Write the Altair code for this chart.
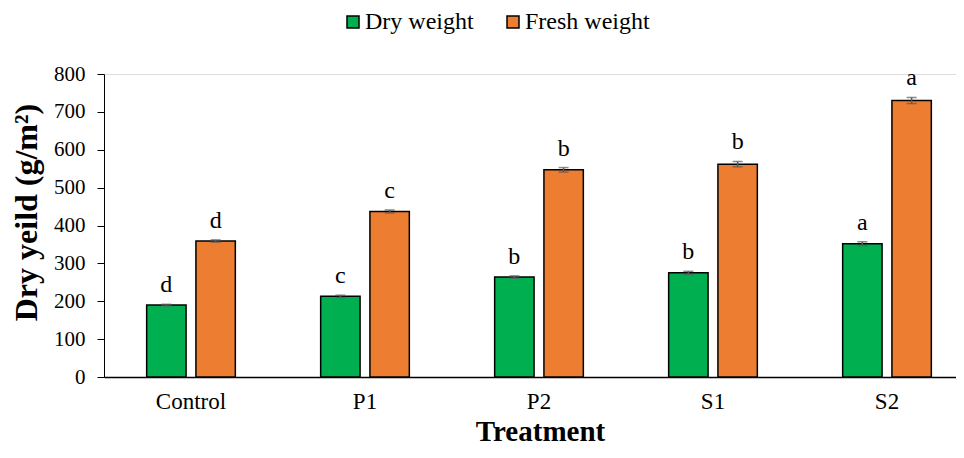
import altair as alt
import pandas as pd

treatments = ["Control", "P1", "P2", "S1", "S2"]
series = ["Dry weight", "Fresh weight"]
colors = ["#00B050", "#ED7D31"]
dry = [190, 213, 264, 275, 352]
fresh = [359, 437, 547, 562, 730]
dry_err = [2, 3, 3, 4, 5]
fresh_err = [3, 4, 6, 7, 8]
dry_letters = ["d", "c", "b", "b", "a"]
fresh_letters = ["d", "c", "b", "b", "a"]
y_ticks = [0, 100, 200, 300, 400, 500, 600, 700, 800]

rows = []
for i, t in enumerate(treatments):
    rows.append(dict(Treatment=t, Series=series[0], value=dry[i], err=dry_err[i], letter=dry_letters[i]))
    rows.append(dict(Treatment=t, Series=series[1], value=fresh[i], err=fresh_err[i], letter=fresh_letters[i]))
df = pd.DataFrame(rows)
df["lo"] = df["value"] - df["err"]
df["hi"] = df["value"] + df["err"]

FONT = "Liberation Serif"

xscale = alt.Scale(range=[0, 870], paddingInner=0, paddingOuter=0)
xaxis = alt.Axis(
    title="Treatment", labelAngle=0, ticks=False, domainColor="black", domainWidth=1.5,
    labelFont=FONT, labelFontSize=23, labelColor="black", labelPadding=13,
    titleFont=FONT, titleFontSize=29, titleFontWeight="bold", titleColor="black",
    titleX=436, titleY=54, titleBaseline="middle",
)
x = alt.X("Treatment:N", sort=treatments, scale=xscale, axis=xaxis)
xo = alt.XOffset("Series:N", sort=series, scale=alt.Scale(paddingInner=0.2, paddingOuter=0.866))

yscale = alt.Scale(domain=[0, 800])
yaxis = alt.Axis(
    title="Dry yeild (g/m²)", values=y_ticks, grid=False, labelOverlap=False,
    domainColor="black", tickColor="black", tickSize=7, labelPadding=12,
    labelFont=FONT, labelFontSize=21, labelColor="black",
    titleFont=FONT, titleFontSize=32, titleFontWeight="bold", titleColor="black",
    titleX=-78, titleY=138, titleAngle=-90, titleBaseline="middle", titleAlign="center",
)

base = alt.Chart(df).encode(x=x, xOffset=xo)

bars = base.mark_bar(stroke="black", strokeWidth=1.5).encode(
    y=alt.Y("value:Q", scale=yscale, axis=yaxis),
    color=alt.Color(
        "Series:N", sort=series, scale=alt.Scale(domain=series, range=colors),
        legend=alt.Legend(
            orient="none", legendX=237, legendY=-64, direction="horizontal", title=None,
            symbolType="square", symbolSize=144, symbolStrokeColor="black", symbolStrokeWidth=1.5,
            labelFont=FONT, labelFontSize=24, labelColor="black", columnPadding=27,
            labelOffset=0, padding=0,
        ),
    ),
)

err_rule = base.mark_rule(color="#595959", strokeWidth=1.5).encode(
    y=alt.Y("lo:Q", scale=yscale, axis=yaxis), y2="hi:Q"
)
err_top = base.mark_tick(color="#595959", thickness=1.5, size=10).encode(
    y=alt.Y("hi:Q", scale=yscale, axis=yaxis)
)
err_bot = base.mark_tick(color="#595959", thickness=1.5, size=10).encode(
    y=alt.Y("lo:Q", scale=yscale, axis=yaxis)
)
letters = base.mark_text(font=FONT, fontSize=24, color="black", baseline="alphabetic", dy=-12).encode(
    y=alt.Y("hi:Q", scale=yscale, axis=yaxis), text="letter:N"
)

chart = alt.layer(bars, err_rule, err_top, err_bot, letters).properties(
    width=852, height=303,
    autosize=alt.AutoSizeParams(type="none"),
    padding={"left": 96, "top": 66, "right": 0, "bottom": 68},
).configure_view(stroke=None).configure(background="white")

chart.save("out.html", embed_options={"renderer": "svg", "actions": False})
